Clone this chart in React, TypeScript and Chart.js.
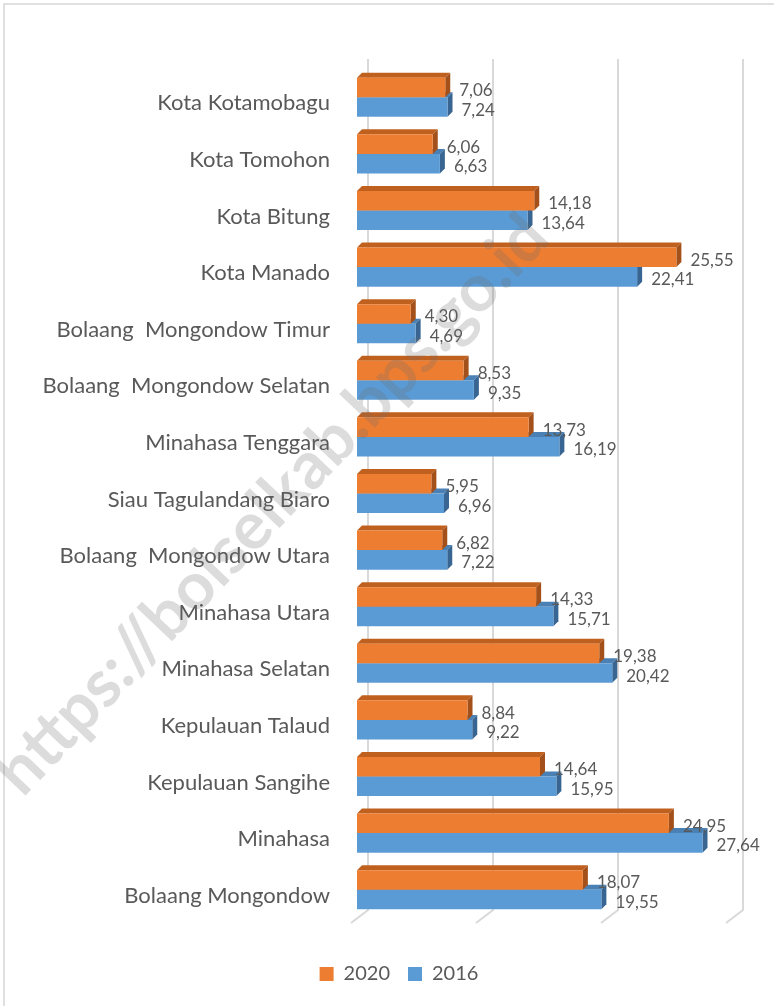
import React, { useEffect, useRef } from "react";
import { Chart, registerables } from "chart.js";

Chart.register(...registerables);

const categories = [
  "Kota Kotamobagu",
  "Kota Tomohon",
  "Kota Bitung",
  "Kota Manado",
  "Bolaang  Mongondow Timur",
  "Bolaang  Mongondow Selatan",
  "Minahasa Tenggara",
  "Siau Tagulandang Biaro",
  "Bolaang  Mongondow Utara",
  "Minahasa Utara",
  "Minahasa Selatan",
  "Kepulauan Talaud",
  "Kepulauan Sangihe",
  "Minahasa",
  "Bolaang Mongondow",
];

const values2020 = [7.06, 6.06, 14.18, 25.55, 4.3, 8.53, 13.73, 5.95, 6.82, 14.33, 19.38, 8.84, 14.64, 24.95, 18.07];
const values2016 = [7.24, 6.63, 13.64, 22.41, 4.69, 9.35, 16.19, 6.96, 7.22, 15.71, 20.42, 9.22, 15.95, 27.64, 19.55];

const gridValues = [0, 10, 20, 30];
const watermark = "https://bolselkab.bps.go.id";

const FONT = "Lato, 'Open Sans', sans-serif";
const TEXT = "#595959";

const faces: Record<number, { top: string; side: string }> = {
  0: { top: "#C0601F", side: "#A3501A" },
  1: { top: "#4A80B3", side: "#386591" },
};

const threeD = {
  id: "threeD",
  afterLayout(chart: any) {
    if (chart.legend) {
      chart.legend.left += 50;
      chart.legend.right += 16;
    }
  },
  beforeDraw(chart: any) {
    const ctx = chart.ctx;
    ctx.save();
    ctx.fillStyle = "#ffffff";
    ctx.fillRect(0, 0, chart.width, chart.height);
    ctx.strokeStyle = "#d6d6d6";
    ctx.lineWidth = 1.5;
    ctx.strokeRect(4, 4, chart.width + 20, chart.height + 20);
    ctx.restore();
  },
  beforeDatasetsDraw(chart: any) {
    const ctx = chart.ctx;
    const xs = chart.scales.x;
    const area = chart.chartArea;
    ctx.save();
    ctx.strokeStyle = "#d9d9d9";
    ctx.lineWidth = 2;
    gridValues.forEach((v) => {
      const fx = xs.getPixelForValue(v);
      const bx = fx + 11;
      ctx.beginPath();
      ctx.moveTo(bx, area.top - 10);
      ctx.lineTo(bx, area.bottom - 8);
      ctx.lineTo(bx - 17, area.bottom + 5);
      ctx.stroke();
    });
    const d = 5;
    [1, 0].forEach((di) => {
      const meta = chart.getDatasetMeta(di);
      meta.data.forEach((el: any) => {
        const p = el.getProps(["x", "y", "base", "height"], true);
        const top = p.y - p.height / 2;
        const bot = p.y + p.height / 2;
        const x0 = p.base;
        const x1 = p.x;
        ctx.fillStyle = faces[di].top;
        ctx.beginPath();
        ctx.moveTo(x0, top);
        ctx.lineTo(x0 + d, top - d);
        ctx.lineTo(x1 + d, top - d);
        ctx.lineTo(x1, top);
        ctx.closePath();
        ctx.fill();
        ctx.fillStyle = faces[di].side;
        ctx.beginPath();
        ctx.moveTo(x1, top);
        ctx.lineTo(x1 + d, top - d);
        ctx.lineTo(x1 + d, bot - d);
        ctx.lineTo(x1, bot);
        ctx.closePath();
        ctx.fill();
      });
    });
    ctx.restore();
  },
  afterDatasetsDraw(chart: any) {
    const ctx = chart.ctx;
    ctx.save();
    ctx.font = `17px ${FONT}`;
    ctx.fillStyle = TEXT;
    ctx.textAlign = "left";
    ctx.textBaseline = "middle";
    chart.data.datasets.forEach((ds: any, di: number) => {
      const meta = chart.getDatasetMeta(di);
      meta.data.forEach((el: any, i: number) => {
        const v = ds.data[i] as number;
        ctx.fillText(v.toFixed(2).replace(".", ","), el.x + 14, el.y + 3);
      });
    });
    ctx.restore();
  },
  afterDraw(chart: any) {
    const ctx = chart.ctx;
    ctx.save();
    ctx.translate(272, 505);
    ctx.rotate((-46.5 * Math.PI) / 180);
    ctx.font = `bold 66px ${FONT}`;
    ctx.fillStyle = "rgba(110,110,110,0.24)";
    ctx.textAlign = "center";
    ctx.textBaseline = "middle";
    ctx.fillText(watermark, 0, 0);
    ctx.restore();
  },
};

export default function App() {
  const ref = useRef<HTMLCanvasElement | null>(null);
  useEffect(() => {
    if (!ref.current) return;
    const chart = new Chart(ref.current, {
      type: "bar",
      data: {
        labels: categories,
        datasets: [
          {
            label: "2020",
            data: values2020,
            backgroundColor: "#ED7D31",
            borderWidth: 0,
            categoryPercentage: 0.69,
            barPercentage: 1,
          },
          {
            label: "2016",
            data: values2016,
            backgroundColor: "#5B9BD5",
            borderWidth: 0,
            categoryPercentage: 0.69,
            barPercentage: 1,
          },
        ],
      },
      options: {
        indexAxis: "y",
        responsive: false,
        animation: false,
        devicePixelRatio: 1,
        layout: { padding: { left: 0, right: 42, top: 69, bottom: 12 } },
        scales: {
          x: {
            min: 0,
            max: 30,
            display: true,
            grid: { display: false },
            border: { display: false },
            ticks: { display: false },
            afterFit: (s: any) => {
              s.height = 28;
            },
          },
          y: {
            grid: { display: false },
            border: { display: false },
            ticks: {
              color: TEXT,
              font: { family: FONT, size: 22 },
              padding: 19,
              labelOffset: 6,
              autoSkip: false,
            },
            afterFit: (s: any) => {
              s.width = 357;
            },
          },
        },
        plugins: {
          legend: {
            position: "bottom",
            labels: {
              boxWidth: 14,
              boxHeight: 14,
              padding: 18,
              color: TEXT,
              font: { family: FONT, size: 20 },
            },
          },
          tooltip: { enabled: false },
        },
      },
      plugins: [threeD],
    });
    return () => chart.destroy();
  }, []);
  return (
    <div style={{ position: "absolute", left: 0, top: 0, width: 774, height: 1006 }}>
      <canvas ref={ref} width={774} height={1006} style={{ width: 774, height: 1006, display: "block" }} />
    </div>
  );
}
